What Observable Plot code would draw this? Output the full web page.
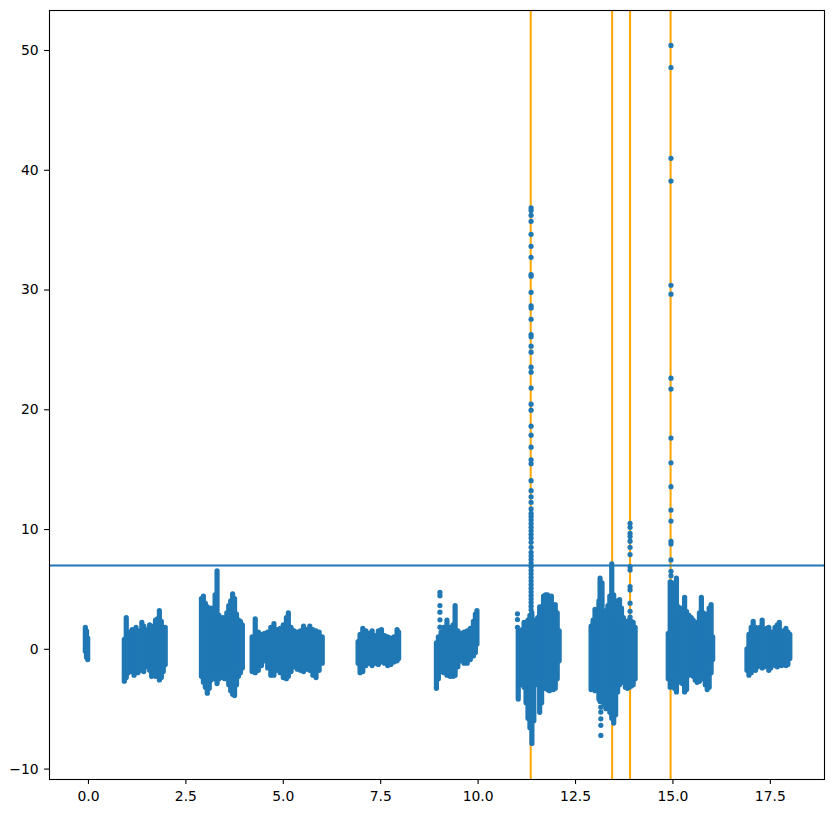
<!DOCTYPE html>
<html><head><meta charset="utf-8">
<script src="https://cdn.jsdelivr.net/npm/d3@7"></script>
<script src="https://cdn.jsdelivr.net/npm/@observablehq/plot@0.6"></script>
<style>body{margin:0;background:#fff} svg{display:block}</style>
</head><body><div id="chart"></div>
<script>
// Tick values
const xTicks = [0, 2.5, 5, 7.5, 10, 12.5, 15, 17.5];
const yTicks = [-10, 0, 10, 20, 30, 40, 50];
// Reference lines
const vLines = [11.35, 13.44, 13.90, 14.94];
const hLine = 7;

// Dense scatter clusters, read as envelope columns: [x, low, high]
const segA = [[-0.08,-0.2,1.8],[-0.05,-0.7,1.5],[-0.02,-0.9,0.9]];
const segB = [[0.92,-2.7,0.8],[0.97,-2.4,2.6],[1.02,-2.0,1.2],[1.07,-1.6,1.4],[1.12,-1.9,1.6],[1.17,-2.2,1.4],[1.22,-1.8,1.8],[1.27,-2.0,1.5],[1.32,-1.5,1.2],[1.37,-1.8,2.2],[1.42,-1.9,1.9],[1.47,-1.4,1.5],[1.52,-1.5,1.6],[1.57,-1.8,2.0],[1.62,-2.3,1.7],[1.67,-1.6,1.9],[1.72,-2.3,2.4],[1.77,-2.1,2.5],[1.82,-2.6,3.2],[1.87,-2.4,2.3],[1.92,-1.9,1.8],[1.97,-1.3,1.8]];
const segC = [[2.90,-2.3,4.2],[2.95,-2.8,4.4],[3.00,-3.2,3.8],[3.05,-3.7,3.5],[3.10,-3.3,3.2],[3.15,-2.6,3.4],[3.20,-2.3,3.0],[3.25,-2.5,4.5],[3.30,-2.9,6.5],[3.35,-2.5,2.8],[3.40,-2.2,2.4],[3.45,-2.4,2.6],[3.50,-2.5,2.5],[3.55,-2.1,3.0],[3.60,-3.0,3.6],[3.65,-3.5,4.0],[3.70,-3.8,4.6],[3.75,-3.9,4.2],[3.80,-3.0,2.9],[3.85,-2.3,2.4],[3.90,-2.0,2.3],[3.95,-1.6,2.0]];
const segD = [[4.20,-1.9,1.0],[4.28,-2.0,2.5],[4.36,-1.8,1.4],[4.44,-1.4,1.2],[4.52,-1.0,1.3],[4.60,-1.6,1.4],[4.68,-2.2,1.8],[4.76,-2.2,2.1],[4.84,-1.8,1.6],[4.92,-2.0,1.7],[5.00,-2.4,2.0],[5.08,-2.5,2.6],[5.13,-2.3,3.0],[5.20,-1.9,1.8],[5.28,-1.5,1.5],[5.36,-1.7,1.4],[5.44,-1.8,1.5],[5.52,-1.9,1.9],[5.60,-1.7,1.6],[5.68,-1.8,1.9],[5.76,-2.2,1.6],[5.84,-2.4,1.5],[5.92,-1.8,1.4],[6.00,-1.2,1.0]];
const segE = [[6.92,-1.2,0.6],[6.97,-2.0,1.2],[7.04,-1.9,1.7],[7.12,-1.4,1.5],[7.20,-1.2,1.3],[7.28,-1.4,1.5],[7.36,-1.2,1.1],[7.44,-1.3,1.5],[7.52,-1.1,1.6],[7.60,-1.2,1.1],[7.68,-1.4,1.0],[7.76,-1.3,0.9],[7.84,-1.1,1.0],[7.92,-1.0,1.6],[7.96,-0.8,1.4]];
const segF = [[8.93,-3.3,0.5],[8.98,-2.5,1.0],[9.05,-1.9,1.4],[9.12,-2.0,1.8],[9.20,-2.2,2.4],[9.28,-2.3,1.8],[9.36,-2.3,2.0],[9.41,-2.2,3.6],[9.48,-1.5,1.5],[9.56,-1.0,1.3],[9.64,-1.2,1.4],[9.72,-1.2,1.5],[9.80,-0.9,1.7],[9.88,-0.6,2.3],[9.93,-0.3,2.9],[9.97,0.4,3.2]];
const segG = [[11.03,-4.2,1.5],[11.08,-3.0,1.4],[11.13,-2.0,1.6],[11.18,-3.2,2.2],[11.23,-4.5,2.2],[11.28,-5.8,2.4],[11.33,-6.6,2.8],[11.38,-7.9,3.0],[11.43,-6.0,2.4],[11.48,-2.4,2.3],[11.53,-3.0,2.6],[11.58,-5.3,3.5],[11.63,-4.5,3.5],[11.68,-3.3,4.4],[11.73,-3.2,4.5],[11.78,-3.4,4.5],[11.83,-3.5,4.2],[11.88,-3.3,4.4],[11.93,-3.4,3.6],[11.98,-3.3,3.7],[12.03,-2.5,3.0],[12.08,-1.0,1.5]];
const segH = [[12.90,-3.4,1.9],[12.95,-3.3,2.4],[13.00,-3.5,3.3],[13.05,-3.4,3.0],[13.10,-4.2,4.0],[13.13,-4.4,5.9],[13.18,-4.3,5.5],[13.23,-4.6,3.0],[13.28,-5.0,3.2],[13.33,-4.8,3.6],[13.38,-5.3,4.4],[13.43,-5.8,7.1],[13.48,-6.2,4.5],[13.53,-5.5,3.0],[13.58,-3.6,4.0],[13.63,-3.0,4.1],[13.68,-2.6,3.4],[13.73,-2.8,2.6],[13.78,-3.2,2.2],[13.83,-3.3,2.3],[13.88,-3.2,2.4],[13.93,-3.1,2.3],[13.98,-3.0,2.2],[14.03,-2.5,1.8]];
const segI = [[14.88,-2.5,1.3],[14.93,-3.2,5.6],[14.98,-3.0,5.5],[15.04,-3.3,5.0],[15.09,-3.6,5.9],[15.14,-2.8,3.5],[15.19,-2.0,3.0],[15.24,-2.9,3.4],[15.30,-3.6,4.3],[15.35,-3.4,3.1],[15.41,-2.2,2.8],[15.47,-1.9,2.6],[15.52,-2.3,2.4],[15.57,-2.6,1.8],[15.62,-2.8,2.2],[15.68,-2.7,3.0],[15.73,-2.2,4.3],[15.78,-2.5,3.0],[15.83,-3.0,2.2],[15.88,-3.4,2.9],[15.93,-3.2,3.4],[15.98,-2.0,3.7],[16.02,-0.9,1.0]];
const segJ = [[16.90,-1.8,0.0],[16.95,-2.2,1.2],[17.01,-2.0,1.8],[17.06,-1.7,2.3],[17.12,-1.8,1.8],[17.17,-1.5,1.6],[17.23,-1.4,1.8],[17.29,-1.6,2.4],[17.34,-1.5,1.6],[17.40,-1.4,1.7],[17.46,-1.8,1.8],[17.51,-1.6,1.4],[17.57,-1.3,1.4],[17.62,-1.4,1.8],[17.68,-1.5,2.0],[17.73,-1.3,2.2],[17.79,-1.4,1.3],[17.84,-1.3,1.5],[17.90,-1.4,1.7],[17.95,-1.3,1.4],[18.00,-0.8,1.2]];

// Isolated points: [x, y values]
const spike1136 = [36.87,36.65,36.24,35.74,34.65,33.65,32.73,31.29,31.15,29.81,28.68,28.5,27.56,26.28,26.1,25.31,24.81,23.56,23.14,21.81,20.47,19.97,18.63,17.88,16.88,15.82,15.5,14.08,13.25,12.74,12.27,11.72,11.35,11.1,10.8,10.5,10.2,9.9,9.6,9.3,8.94,8.52,8.1,7.8,7.5,7.2,6.9,6.6,6.3,6.0,5.7,5.4,5.1,4.8,4.5,4.2,3.9,3.6,3.3];
const spike1495 = [50.42,48.58,41.0,39.1,30.4,29.65,22.64,21.73,17.64,15.58,13.58,11.63,10.71,9.02,8.8,7.46,6.51,6.15];
const spike1390 = [10.52,10.19,9.69,9.41,9.03,8.52,7.91,6.91,6.63,5.24,4.96,3.85,3.18,2.68];
const drop1315 = [-4.83,-5.24,-5.8,-6.35,-7.19];
const rise902 = [4.75,4.48,3.65,3.1,2.46,1.85];
const rise1101 = [2.96,2.49,1.84];

const columns = [...segA,...segB,...segC,...segD,...segE,...segF,...segG,...segH,...segI,...segJ]
  .map(([x, lo, hi]) => ({x, lo, hi}));
const points = [
  ...spike1136.map(y => ({x: 11.36, y})),
  ...spike1495.map(y => ({x: 14.95, y})),
  ...spike1390.map(y => ({x: 13.90, y})),
  ...drop1315.map(y => ({x: 13.15, y})),
  ...rise902.map(y => ({x: 9.02, y})),
  ...rise1101.map(y => ({x: 11.01, y}))
];

const blue = "#1f77b4";
const chart = Plot.plot({
  width: 833, height: 813,
  marginLeft: 49, marginRight: 9, marginTop: 10, marginBottom: 34,
  style: {fontFamily: "DejaVu Sans", fontSize: "13.9px", color: "black", background: "white"},
  x: {domain: [-1.0, 18.89]},
  y: {domain: [-10.87, 53.34]},
  marks: [
    Plot.ruleX(vLines, {stroke: "orange", strokeWidth: 2}),
    Plot.ruleY([hLine], {stroke: blue, strokeWidth: 2}),
    Plot.ruleX(columns, {x: "x", y1: "lo", y2: "hi", stroke: blue, strokeWidth: 5.2, strokeLinecap: "round"}),
    Plot.dot(points, {x: "x", y: "y", r: 2.6, fill: blue}),
    Plot.frame({stroke: "black", strokeWidth: 1.1}),
    Plot.axisX({ticks: xTicks, tickFormat: d3.format(".1f"), tickSize: 4.9, tickPadding: 7, label: null, strokeWidth: 1.1}),
    Plot.axisY({ticks: yTicks, tickSize: 4.9, tickPadding: 6, label: null, strokeWidth: 1.1})
  ]
});
document.getElementById("chart").appendChild(chart);
</script>
</body></html>
